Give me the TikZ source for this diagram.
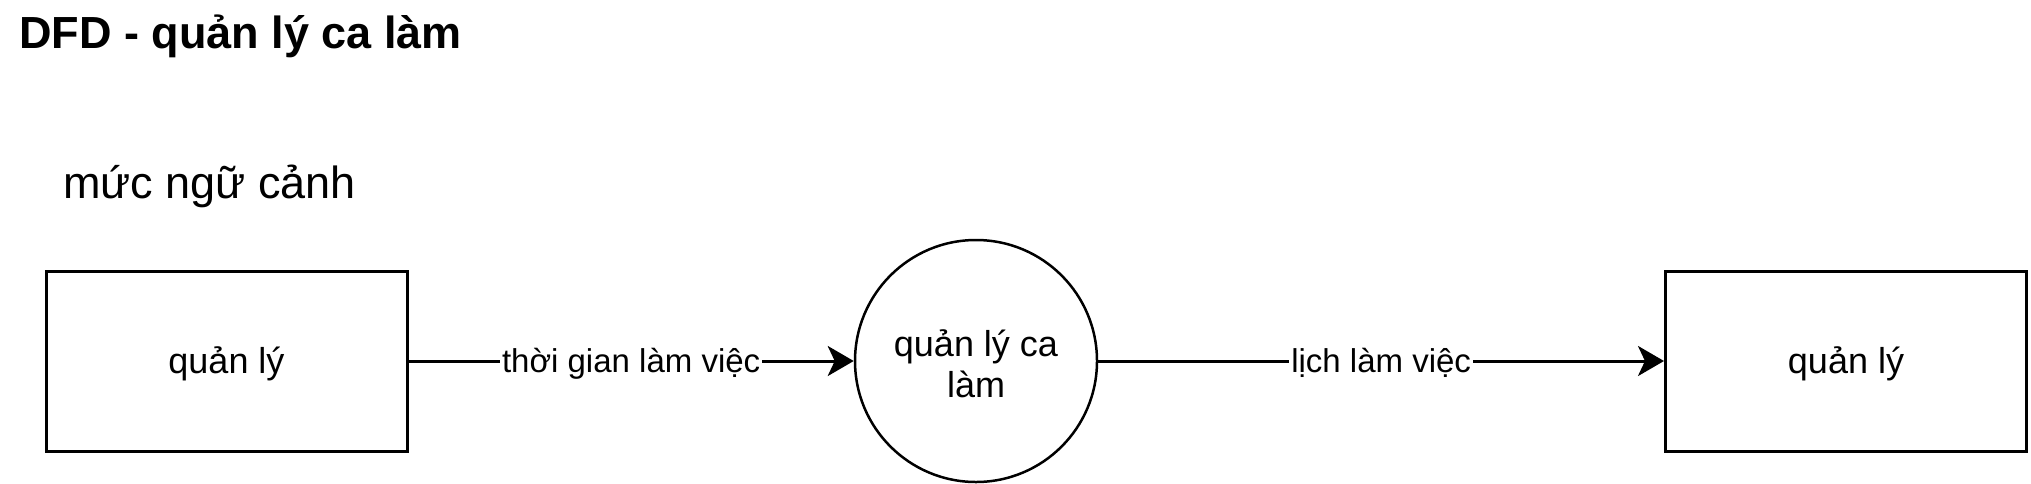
\documentclass[tikz,border=0pt]{standalone}
\usepackage{fontspec}
\setmainfont{Liberation Sans}
\usetikzlibrary{arrows.meta}
\begin{document}
\begin{tikzpicture}[x=1pt,y=-1pt,
  entity/.style={draw, line width=3pt, minimum width=361pt, minimum height=180pt, inner sep=0pt, text height=32.6pt, text depth=7.6pt, font=\fontsize{36}{41}\selectfont},
  proc/.style={draw, circle, line width=2.5pt, minimum size=242pt, inner sep=0pt, align=center, font=\fontsize{36}{41}\selectfont},
  flow/.style={line width=3pt, -{Stealth[length=26pt,width=30pt,inset=7pt]}},
  lbl/.style={fill=white, inner sep=2pt, text height=29.9pt, text depth=7pt, font=\fontsize{33}{38}\selectfont}]
\useasboundingbox (0,0) rectangle (2031,483);
\node[anchor=base west, inner sep=0pt, font=\bfseries\fontsize{45}{54}\selectfont] (title) at (19,48) {DFD - quản lý ca làm};
\node[anchor=base west, inner sep=0pt, font=\fontsize{45}{52}\selectfont] (level) at (63,198) {mức ngữ cảnh};
\node[entity] (src) at (226.5,361) {quản lý};
\node[proc] (p) at (976,361) {\rule{0pt}{33pt}quản lý ca\\làm};
\node[entity] (dst) at (1846,361) {quản lý};
\draw[flow] (src) -- node[lbl]{thời gian làm việc} (p);
\draw[flow] (p) -- node[lbl]{lịch làm việc} (dst);
\end{tikzpicture}
\end{document}
